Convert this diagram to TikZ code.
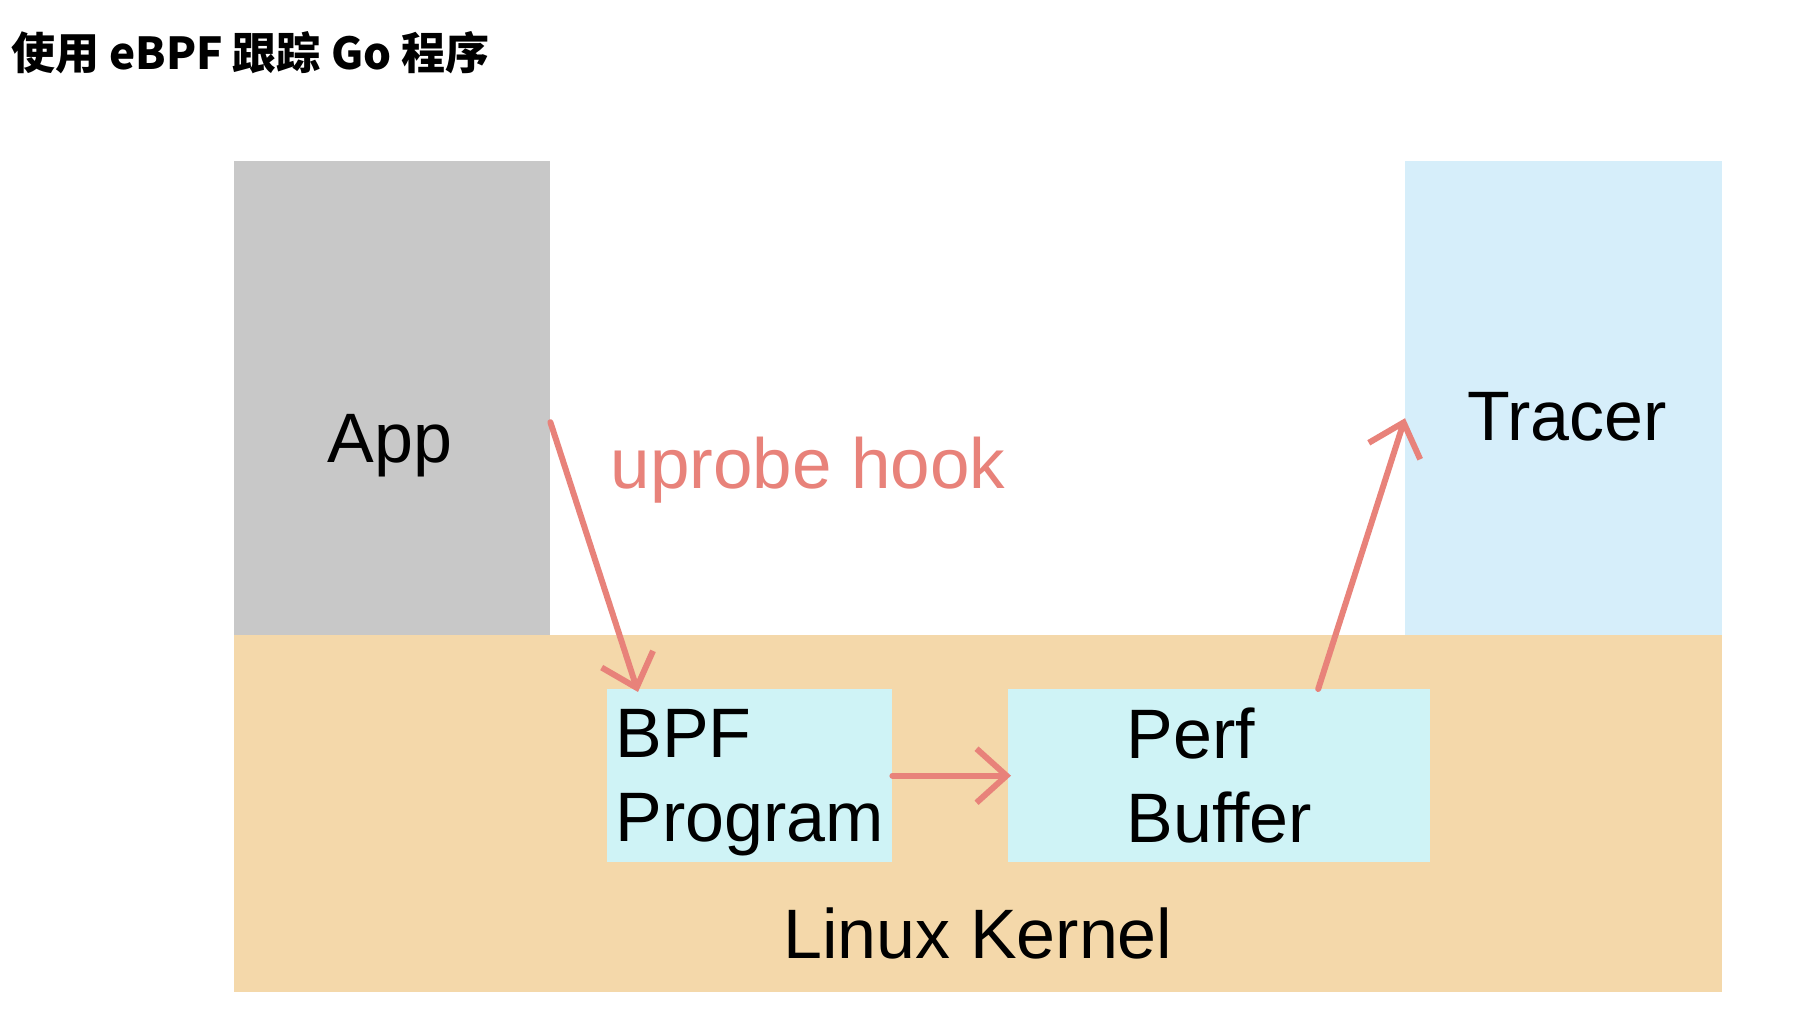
\documentclass[tikz,border=0pt]{standalone}
\usepackage{fontspec}
\setmainfont{Liberation Sans}
\newfontfamily\cjk{Noto Sans CJK SC}
\usetikzlibrary{arrows.meta}
\definecolor{AppGray}{HTML}{C8C8C8}
\definecolor{TracerBlue}{HTML}{D6EEFA}
\definecolor{KernelSand}{HTML}{F4D8AA}
\definecolor{InnerCyan}{HTML}{CFF3F6}
\definecolor{HookRed}{HTML}{E8827A}
\tikzset{
    % Flat filled blocks, no outline
    block/.style={
        rectangle,
        draw=none,
        inner sep=0pt,
        anchor=north west
    },
    innerbox/.style={
        block,
        fill=InnerCyan,
        align=left,
        minimum height=173pt,
        font=\fontsize{70}{84}\selectfont
    },
    bigtext/.style={
        font=\fontsize{70}{75}\selectfont,
        anchor=base,
        inner sep=0pt
    },
    flowarrow/.style={
        -{Straight Barb[length=30pt,width=54pt]},
        line width=6pt,
        line cap=round,
        line join=round,
        color=HookRed
    }
}

\begin{document}
\begin{tikzpicture}[x=1pt, y=-1pt]
    \useasboundingbox[fill=white] (0,0) rectangle (1816,1024);

    % Title
    \node[anchor=base west, inner sep=0pt, font=\cjk\bfseries\fontsize{44}{50}\selectfont] (title) at (11,70) {使用 eBPF 跟踪 Go 程序};

    % Linux Kernel
    \node[block, fill=KernelSand, minimum width=1488pt, minimum height=357pt] (kernel) at (234,635) {};
    \node[bigtext] (kernellabel) at (978,958) {Linux Kernel};

    % BPF Program
    \node[innerbox, minimum width=285pt] (bpf) at (607,689) {BPF\\\smash{Program}};

    % Perf Buffer
    \node[innerbox, minimum width=422pt] (perf) at (1008,689) {Perf\\Buffer};

    % App
    \node[block, fill=AppGray, minimum width=316pt, minimum height=474pt] (app) at (234,161) {};
    \node[bigtext] (applabel) at (390,462) {App};

    % Tracer
    \node[block, fill=TracerBlue, minimum width=317pt, minimum height=474pt] (tracer) at (1405,161) {};
    \node[bigtext] (tracerlabel) at (1567,440) {Tracer};

    % uprobe hook label
    \node[bigtext, font=\fontsize{71}{75}\selectfont, text=HookRed] (hook) at (808,488) {uprobe hook};

    % Arrows
    \draw[flowarrow] ([yshift=-24pt]app.east) -- ([xshift=31pt, yshift=-3pt]bpf.north west);
    \draw[flowarrow] (bpf.east) -- ([xshift=3pt]perf.west);
    \draw[flowarrow] ([xshift=99pt]perf.north) -- ([yshift=-20pt]tracer.west);
\end{tikzpicture}
\end{document}
